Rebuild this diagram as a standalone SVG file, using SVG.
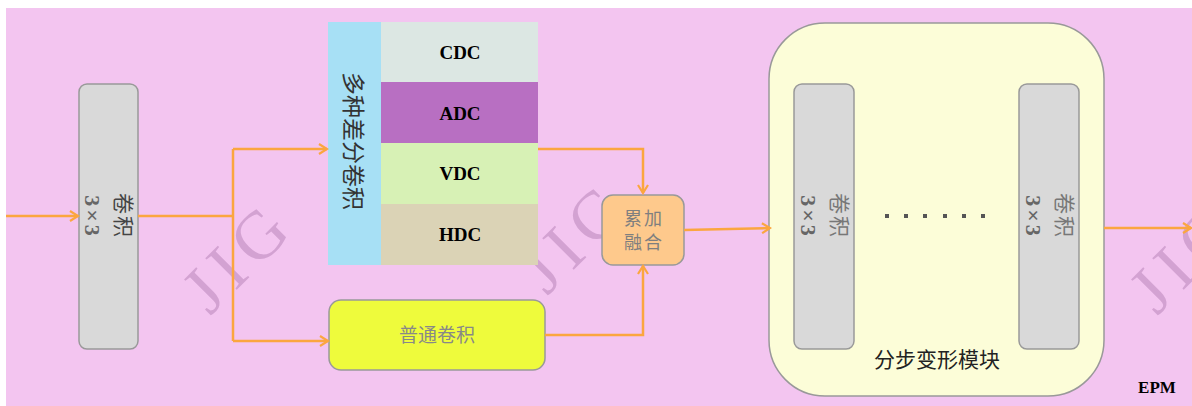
<svg xmlns="http://www.w3.org/2000/svg" width="1192" height="406" viewBox="0 0 1192 406">
<defs>
<marker id="arr" viewBox="0 0 12 12" refX="10" refY="6" markerWidth="12" markerHeight="12" markerUnits="userSpaceOnUse" orient="auto">
<path d="M2,1 L10,6 L2,11" fill="none" stroke="#fba63f" stroke-width="2.2"/>
</marker>
<style>
.conn{fill:none;stroke:#fba63f;stroke-width:2.5}
.box{stroke:#999;stroke-width:1.5}
.cn{font-family:"Noto Sans CJK SC",sans-serif}
.sr{font-family:"Liberation Serif",serif}
.lab{font-family:"Liberation Serif",serif;font-weight:bold;font-size:19px;fill:#000;text-anchor:middle}
.wm{font-family:"Liberation Serif",serif;font-size:68px;fill:#d3a2d2;letter-spacing:9px}
.k{font-family:"Liberation Serif",serif;font-size:22px;font-weight:bold;fill:#666;text-anchor:middle;letter-spacing:3px}
</style>
</defs>
<rect x="0" y="0" width="1192" height="406" fill="#ffffff"/>
<rect x="6" y="8" width="1186" height="398" fill="#f3c5f0"/>
<g id="watermarks">
<text class="wm" transform="translate(238,256) rotate(-45)" text-anchor="middle" dominant-baseline="central">JIG</text>
<text class="wm" transform="translate(575,236) rotate(-45)" text-anchor="middle" dominant-baseline="central">JIG</text>
<text class="wm" transform="translate(1185,256) rotate(-45)" text-anchor="middle" dominant-baseline="central">JIG</text>
</g>
<g id="conv-in">
<rect class="box" x="79" y="84" width="59" height="265" rx="8" fill="#d9d9d9"/>
<g transform="translate(108,216) rotate(90)">
<text class="cn" x="0" y="-8" font-size="21" fill="#444" text-anchor="middle" letter-spacing="2">卷积</text>
<text class="k" x="1" y="23">3×3</text>
</g>
</g>
<g id="multi-diff">
<rect x="328" y="22" width="53" height="243" fill="#a7e0f5"/>
<rect x="381" y="22" width="157" height="60" fill="#dce7e3"/>
<rect x="381" y="82" width="157" height="61" fill="#b86fc2"/>
<rect x="381" y="143" width="157" height="61" fill="#d7f1b5"/>
<rect x="381" y="204" width="157" height="61" fill="#dbd3b6"/>
<text class="cn" transform="translate(355,141) rotate(90)" font-size="23" fill="#333" text-anchor="middle" dominant-baseline="central">多种差分卷积</text>
<text class="lab" x="460" y="59">CDC</text>
<text class="lab" x="460" y="120">ADC</text>
<text class="lab" x="460" y="180">VDC</text>
<text class="lab" x="460" y="241">HDC</text>
</g>
<g id="plain-conv">
<rect class="box" x="329" y="300" width="216" height="70" rx="12" fill="#eefb3c"/>
<text class="cn" x="437" y="342" font-size="19" fill="#888" text-anchor="middle">普通卷积</text>
</g>
<g id="fusion">
<rect class="box" x="602" y="195" width="82" height="70" rx="11" fill="#fec98c"/>
<text class="cn" x="644" y="225" font-size="18" fill="#7f7f7f" text-anchor="middle" letter-spacing="2">累加</text>
<text class="cn" x="644" y="249" font-size="18" fill="#7f7f7f" text-anchor="middle" letter-spacing="2">融合</text>
</g>
<g id="module">
<rect class="box" x="769" y="23" width="335" height="373" rx="56" fill="#fcfdd8"/>
<rect class="box" x="794" y="84" width="60" height="265" rx="8" fill="#d9d9d9"/>
<g transform="translate(824,216) rotate(90)">
<text class="cn" x="0" y="-8" font-size="21" fill="#777" text-anchor="middle" letter-spacing="2">卷积</text>
<text class="k" x="1" y="23">3×3</text>
</g>
<rect class="box" x="1019" y="84" width="60" height="265" rx="8" fill="#d9d9d9"/>
<g transform="translate(1049,216) rotate(90)">
<text class="cn" x="0" y="-8" font-size="21" fill="#777" text-anchor="middle" letter-spacing="2">卷积</text>
<text class="k" x="1" y="23">3×3</text>
</g>
<g fill="#555">
<rect x="885" y="214" width="4" height="4"/>
<rect x="904" y="214" width="4" height="4"/>
<rect x="923" y="214" width="4" height="4"/>
<rect x="943" y="214" width="4" height="4"/>
<rect x="962" y="214" width="4" height="4"/>
<rect x="981" y="214" width="4" height="4"/>
</g>
<text class="cn" x="937" y="367" font-size="21" fill="#222" text-anchor="middle">分步变形模块</text>
</g>
<g id="connectors">
<path class="conn" d="M6,216 L78,216" marker-end="url(#arr)"/>
<path class="conn" d="M138,216 L233,216"/>
<path class="conn" d="M233,149 L233,341"/>
<path class="conn" d="M233,149 L327,149" marker-end="url(#arr)"/>
<path class="conn" d="M233,341 L328,341" marker-end="url(#arr)"/>
<path class="conn" d="M538,149 L643,149 L643,193" marker-end="url(#arr)"/>
<path class="conn" d="M545,335 L643,335 L643,266" marker-end="url(#arr)"/>
<path class="conn" d="M684,230 L770,228" marker-end="url(#arr)"/>
<path class="conn" d="M1104,228 L1191,228" marker-end="url(#arr)"/>
</g>
<text id="epm" class="sr" x="1157" y="393" font-size="17" font-weight="bold" fill="#000" text-anchor="middle">EPM</text>
</svg>
